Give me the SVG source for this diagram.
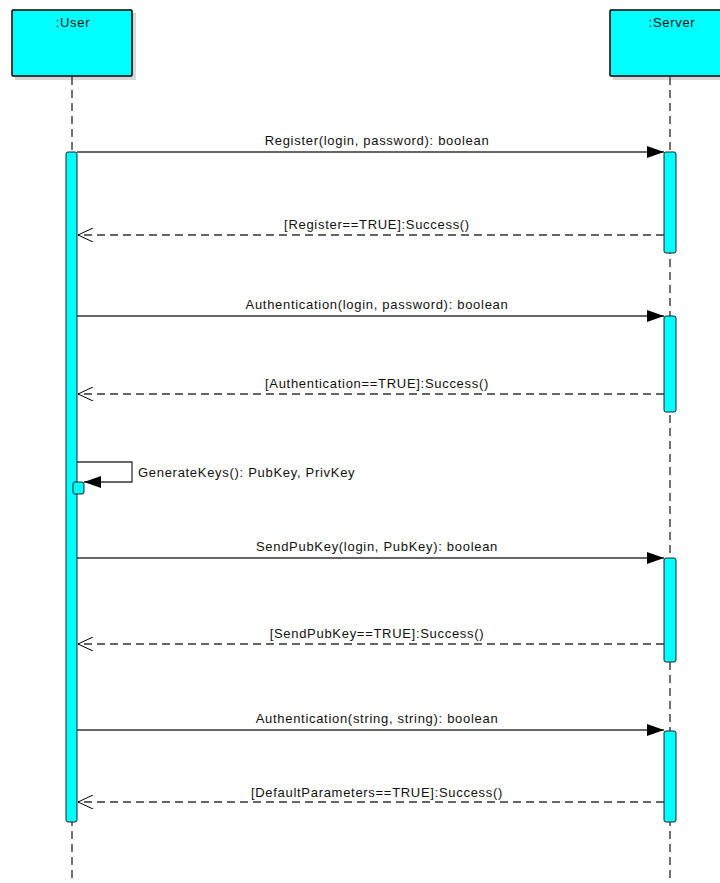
<svg xmlns="http://www.w3.org/2000/svg" width="720" height="883" viewBox="0 0 720 883">
<defs>
<marker id="filled" markerWidth="18" markerHeight="12" refX="17" refY="6" orient="auto" markerUnits="userSpaceOnUse">
<path d="M0,0 L17,6 L0,12 Z" fill="#000"/>
</marker>
<marker id="openL" markerWidth="18" markerHeight="14" refX="17" refY="7" orient="auto" markerUnits="userSpaceOnUse">
<path d="M2,0 L17,7 L2,14" fill="none" stroke="#000" stroke-width="1"/>
</marker>
</defs>
<style>
.head{fill:#00FFFF;stroke:#000;stroke-width:1.5}
.shadow{fill:#d8d8d8}
.life{stroke:#444;stroke-width:1.5;stroke-dasharray:8 5;fill:none}
.act{fill:#00FFFF;stroke:#222;stroke-width:1}
.msg{stroke:#333;stroke-width:1.3;fill:none}
.ret{stroke:#333;stroke-width:1.3;stroke-dasharray:8 5;fill:none}
text{font-family:"Liberation Sans",Arial,sans-serif;font-size:13px;letter-spacing:0.7px;fill:#111}
.lbl{text-anchor:middle}
</style>
<rect width="720" height="883" fill="#fff"/>

<g id="user">
<rect class="shadow" x="15" y="13" width="121" height="67"/>
<rect class="head" x="12" y="10" width="120" height="66" rx="1"/>
<text x="73" y="27" class="lbl">:User</text>
<line class="life" x1="72" y1="77" x2="72" y2="883"/>
<rect class="act" x="66" y="152" width="11" height="670" rx="2"/>
<rect class="act" x="73" y="482" width="11" height="12" rx="2"/>
</g>

<g id="server">
<rect class="shadow" x="613" y="13" width="110" height="67"/>
<rect class="head" x="610" y="10" width="115" height="66" rx="1"/>
<text x="672" y="27" class="lbl">:Server</text>
<line class="life" x1="670" y1="77" x2="670" y2="883"/>
<rect class="act" x="664" y="152" width="12" height="101" rx="2"/>
<rect class="act" x="664" y="316" width="12" height="96" rx="2"/>
<rect class="act" x="664" y="558" width="12" height="104" rx="2"/>
<rect class="act" x="664" y="731" width="12" height="91" rx="2"/>
</g>

<g id="connectors">
<line class="msg" x1="77" y1="152" x2="664" y2="152" marker-end="url(#filled)"/>
<text x="377" y="145" class="lbl">Register(login, password): boolean</text>
<line class="ret" x1="664" y1="235" x2="78" y2="235" marker-end="url(#openL)"/>
<text x="377" y="229" class="lbl">[Register==TRUE]:Success()</text>

<line class="msg" x1="77" y1="316" x2="664" y2="316" marker-end="url(#filled)"/>
<text x="377" y="309" class="lbl">Authentication(login, password): boolean</text>
<line class="ret" x1="664" y1="394" x2="78" y2="394" marker-end="url(#openL)"/>
<text x="377" y="388" class="lbl">[Authentication==TRUE]:Success()</text>

<polyline class="msg" points="77,462 132,462 132,482 84,482" marker-end="url(#filled)"/>
<text x="138" y="477">GenerateKeys(): PubKey, PrivKey</text>

<line class="msg" x1="77" y1="558" x2="664" y2="558" marker-end="url(#filled)"/>
<text x="377" y="551" class="lbl">SendPubKey(login, PubKey): boolean</text>
<line class="ret" x1="664" y1="644" x2="78" y2="644" marker-end="url(#openL)"/>
<text x="377" y="638" class="lbl">[SendPubKey==TRUE]:Success()</text>

<line class="msg" x1="77" y1="730" x2="664" y2="730" marker-end="url(#filled)"/>
<text x="377" y="723" class="lbl">Authentication(string, string): boolean</text>
<line class="ret" x1="664" y1="802" x2="78" y2="802" marker-end="url(#openL)"/>
<text x="377" y="797" class="lbl">[DefaultParameters==TRUE]:Success()</text>
</g>
</svg>
